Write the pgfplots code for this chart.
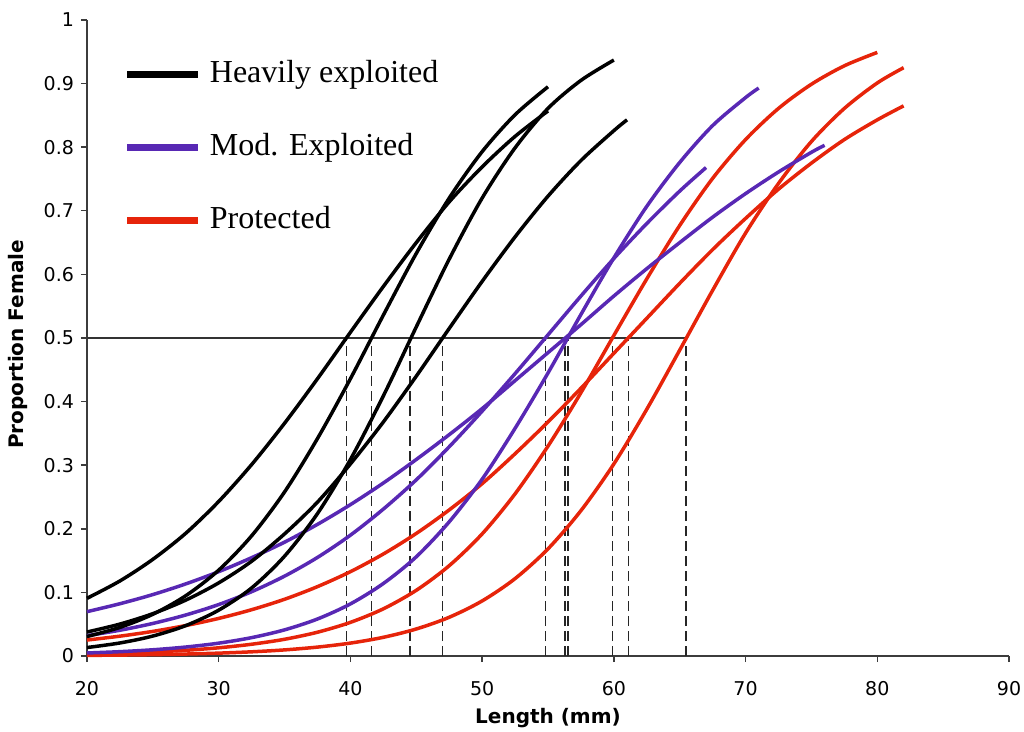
\documentclass[border=0pt]{standalone}
\usepackage{fontspec}
\setmainfont{DejaVu Sans}
\newfontfamily\legfont{Liberation Serif}
\usepackage{pgfplots}
\pgfplotsset{compat=1.18}
\definecolor{modpurple}{RGB}{88,40,180}
\definecolor{protred}{RGB}{230,36,10}
\definecolor{axgray}{RGB}{60,60,60}
\begin{document}
\begin{tikzpicture}
\begin{axis}[
  width=461pt, height=318pt, scale only axis,
  xmin=20, xmax=90, ymin=0, ymax=1,
  axis x line=bottom, axis y line=left,
  axis line style={-, axgray, line width=0.7pt},
  xtick={20,30,40,50,60,70,80,90},
  ytick={0,0.1,0.2,0.3,0.4,0.5,0.6,0.7,0.8,0.9,1},
  tick align=outside, tick style={axgray, line width=0.7pt}, major tick length=3pt,
  yticklabel style={/pgf/number format/fixed, /pgf/number format/precision=1},
  /pgf/number format/assume math mode=true,
  tick label style={font=\fontsize{9.5}{11}\selectfont},
  xticklabel style={yshift=-6pt},
  xlabel={Length (mm)}, ylabel={Proportion Female},
  label style={font=\bfseries\fontsize{10}{12}\selectfont},
  xlabel style={at={(axis description cs:0.5,-0.0975)}, anchor=center},
  ylabel style={at={(axis description cs:-0.0748,0.49)}, anchor=center},
  clip=false,
  legend style={draw=none, fill=none, at={(axis cs:22.3,0.944)}, anchor=north west,
    font=\legfont\fontsize{16}{19}\selectfont, row sep=22pt, column sep=4pt,
    nodes={inner sep=0pt, text height=11pt, text depth=3.5pt}},
  legend cell align=left,
  legend image code/.code={\draw[#1, line width=3.6pt] (0pt,0pt) -- (35.5pt,0pt);},
]
\addlegendimage{black}\addlegendentry{Heavily exploited}
\addlegendimage{modpurple}\addlegendentry{Mod. Exploited}
\addlegendimage{protred}\addlegendentry{Protected}

% reference lines
\addplot[black!80, line width=0.65pt, forget plot] coordinates {(20,0.5) (65.5,0.5)};
\pgfplotsset{refdash/.style={black!85, line width=0.85pt, dash pattern=on 5pt off 2.5pt, forget plot}}
\addplot[refdash] coordinates {(39.7,0) (39.7,0.5)};
\addplot[refdash] coordinates {(41.6,0) (41.6,0.5)};
\addplot[refdash] coordinates {(44.5,0) (44.5,0.5)};
\addplot[refdash] coordinates {(47.0,0) (47.0,0.5)};
\addplot[refdash] coordinates {(54.8,0) (54.8,0.5)};
\addplot[refdash] coordinates {(56.3,0) (56.3,0.5)};
\addplot[refdash] coordinates {(56.5,0) (56.5,0.5)};
\addplot[refdash] coordinates {(59.9,0) (59.9,0.5)};
\addplot[refdash] coordinates {(61.1,0) (61.1,0.5)};
\addplot[refdash] coordinates {(65.5,0) (65.5,0.5)};

\pgfplotsset{curve/.style={line width=1.75pt, smooth, forget plot}}
% Protected
\addplot[curve, protred] coordinates {(20,0.0251) (22.5,0.0312) (25,0.0387) (27.5,0.0479) (30,0.0591) (32.5,0.0728) (35,0.0892) (37.5,0.1091) (40,0.1326) (42.5,0.1604) (45,0.1927) (47.5,0.2297) (50,0.271) (52.5,0.318) (55,0.368) (57.5,0.421) (60,0.476) (62.5,0.531) (65,0.586) (67.5,0.639) (70,0.688) (72.5,0.734) (75,0.775) (77.5,0.812) (80,0.843) (82,0.865)};
\addplot[curve, protred] coordinates {(20,0.00306) (22.5,0.00439) (25,0.0063) (27.5,0.00903) (30,0.0129) (32.5,0.0185) (35,0.0263) (37.5,0.0374) (40,0.0529) (42.5,0.0742) (45,0.1033) (47.5,0.142) (50,0.192) (52.5,0.255) (55,0.330) (57.5,0.414) (60,0.504) (62.5,0.593) (65,0.677) (67.5,0.751) (70,0.812) (72.5,0.861) (75,0.899) (77.5,0.928) (80,0.949)};
\addplot[curve, protred] coordinates {(20,0.00099) (22.5,0.00145) (25,0.00212) (27.5,0.00309) (30,0.00451) (32.5,0.00659) (35,0.0096) (37.5,0.014) (40,0.0203) (42.5,0.0294) (45,0.0425) (47.5,0.0609) (50,0.0866) (52.5,0.1217) (55,0.1685) (57.5,0.2286) (60,0.302) (62.5,0.388) (65,0.481) (67.5,0.575) (70,0.665) (72.5,0.743) (75,0.809) (77.5,0.861) (80,0.901) (82,0.925)};
% Mod. exploited
\addplot[curve, modpurple] coordinates {(20,0.0697) (22.5,0.0822) (25,0.0966) (27.5,0.1134) (30,0.1326) (32.5,0.1546) (35,0.179) (37.5,0.207) (40,0.238) (42.5,0.272) (45,0.309) (47.5,0.348) (50,0.389) (52.5,0.433) (55,0.477) (57.5,0.521) (60,0.566) (62.5,0.609) (65,0.650) (67.5,0.690) (70,0.727) (72.5,0.761) (75,0.792) (76,0.803)};
\addplot[curve, modpurple] coordinates {(20,0.032) (22.5,0.0405) (25,0.0512) (27.5,0.0645) (30,0.0809) (32.5,0.1011) (35,0.1256) (37.5,0.155) (40,0.190) (42.5,0.231) (45,0.277) (47.5,0.329) (50,0.385) (52.5,0.444) (55,0.505) (57.5,0.566) (60,0.625) (62.5,0.680) (65,0.731) (67,0.768)};
\addplot[curve, modpurple] coordinates {(20,0.00474) (22.5,0.00682) (25,0.0098) (27.5,0.0141) (30,0.0202) (32.5,0.0289) (35,0.0411) (37.5,0.0582) (40,0.0819) (42.5,0.114) (45,0.156) (47.5,0.211) (50,0.278) (52.5,0.358) (55,0.445) (57.5,0.537) (60,0.626) (62.5,0.707) (65,0.776) (67.5,0.834) (70,0.878) (71,0.893)};
% Heavily exploited
\addplot[curve, black] coordinates {(20,0.0907) (22.5,0.118) (25,0.152) (27.5,0.193) (30,0.243) (32.5,0.301) (35,0.366) (37.5,0.436) (40,0.509) (42.5,0.581) (45,0.650) (47.5,0.714) (50,0.769) (52.5,0.817) (55,0.857)};
\addplot[curve, black] coordinates {(20,0.0306) (22.5,0.045) (25,0.0656) (27.5,0.0948) (30,0.135) (32.5,0.189) (35,0.258) (37.5,0.342) (40,0.436) (42.5,0.536) (45,0.633) (47.5,0.720) (50,0.793) (52.5,0.851) (55,0.895)};
\addplot[curve, black] coordinates {(20,0.0133) (22.5,0.0205) (25,0.0314) (27.5,0.0478) (30,0.0721) (32.5,0.107) (35,0.157) (37.5,0.224) (40,0.309) (42.5,0.409) (45,0.5175) (47.5,0.624) (50,0.720) (52.5,0.799) (55,0.861) (57.5,0.905) (60,0.937)};
\addplot[curve, black] coordinates {(20,0.0377) (22.5,0.0502) (25,0.0666) (27.5,0.0879) (30,0.115) (32.5,0.149) (35,0.192) (37.5,0.242) (40,0.302) (42.5,0.368) (45,0.440) (47.5,0.515) (50,0.589) (52.5,0.659) (55,0.723) (57.5,0.779) (60,0.826) (61,0.843)};

\coordinate (bbl) at (rel axis cs:-0.09436,-0.11792);
\coordinate (btr) at (rel axis cs:1.01627,1.03145);
\end{axis}
\pgfresetboundingbox
\path[use as bounding box] (bbl) rectangle (btr);
\end{tikzpicture}
\end{document}
